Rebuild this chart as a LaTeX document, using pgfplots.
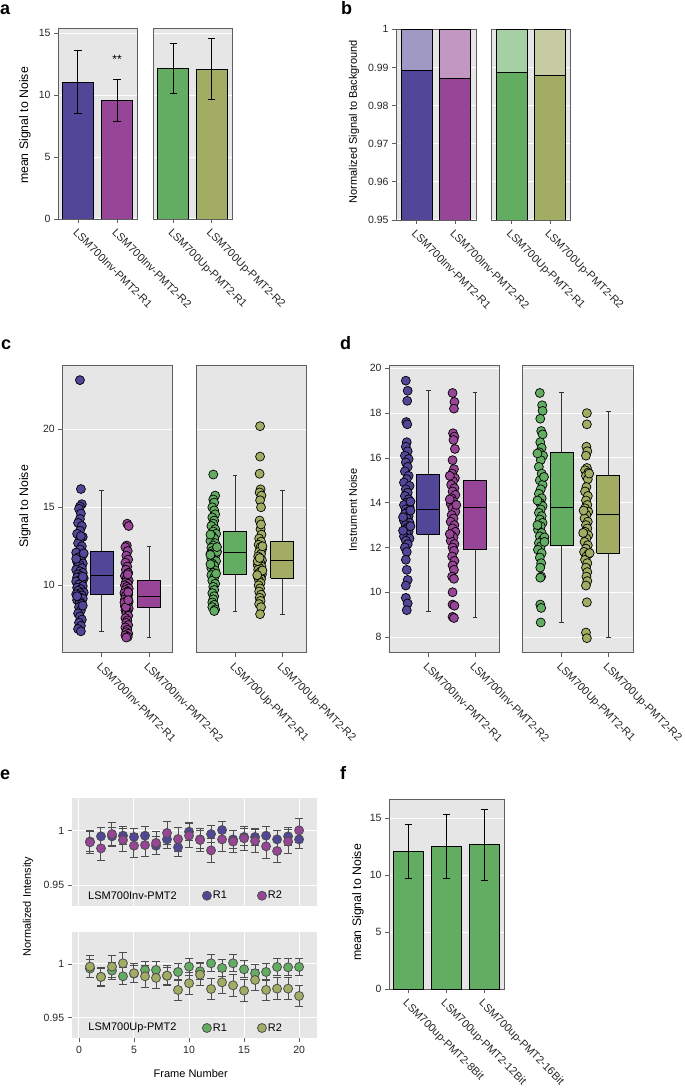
\documentclass[border=0pt]{standalone}
\usepackage{fontspec}
\setmainfont{Liberation Sans}
\usepackage{pgfplots}
\pgfplotsset{compat=1.18}
\definecolor{cA}{HTML}{524698}
\definecolor{cB}{HTML}{974596}
\definecolor{cC}{HTML}{63AD62}
\definecolor{cD}{HTML}{A2AC63}
\definecolor{lA}{HTML}{9F98C2}
\definecolor{lB}{HTML}{C297C2}
\definecolor{lC}{HTML}{A6CFA5}
\definecolor{lD}{HTML}{C7CBA3}
\definecolor{bgc}{HTML}{E6E6E6}
\definecolor{frm}{HTML}{5F5F5F}
\definecolor{mgray}{HTML}{4D4D4D}
\newcommand\tl{\fontsize{10.5}{12}\selectfont}
\newcommand\rl{\fontsize{11}{12}\selectfont}
\newcommand\yl{\fontsize{12.3}{14}\selectfont}
\newcommand\ys{\fontsize{11}{13}\selectfont}
\newcommand\pl{\fontsize{18}{18}\selectfont\bfseries}
\pgfplotsset{
 panel/.style={
  scale only axis, anchor=south west,
  axis background/.style={fill=bgc},
  axis line style={draw=frm, line width=0.9pt},
  tick style={draw=frm, line width=0.8pt},
  tick align=outside, tick pos=left,
  major tick length=4pt,
  ymajorgrids, grid style={white, line width=1pt},
  tick label style={font=\tl, text=black!85},
 },
 rotl/.style={xticklabel style={rotate=-45, anchor=north west, font=\rl}},
 noy/.style={major y tick style={draw=none}, yticklabels={}},
 bar/.style={ybar, bar shift=0pt, bar width=31pt, draw=black, line width=0.9pt},
 ebar/.style={error bars/.cd, y dir=both, y explicit, error bar style={black, line width=1pt}, error mark options={rotate=90, black, line width=1pt, mark size=3.6pt}},
 dots/.style={only marks, mark=*, mark size=4.5pt, mark options={fill=#1, draw=black, line width=0.7pt}},
 wsk/.style={draw=black!80, line width=0.8pt},
 boxs/.style={draw=black, line width=1pt},
}
\begin{document}
\begin{tikzpicture}
\useasboundingbox (0pt,0pt) rectangle (685pt,1090pt);
% ---------- panel letters and labels
\node[anchor=base west, inner sep=0, font=\pl] at (0pt,1075pt) {a};
\node[anchor=base west, inner sep=0, font=\pl] at (341pt,1075pt) {b};
\node[anchor=base west, inner sep=0, font=\pl] at (1pt,740pt) {c};
\node[anchor=base west, inner sep=0, font=\pl] at (340pt,740pt) {d};
\node[anchor=base west, inner sep=0, font=\pl] at (0pt,310pt) {e};
\node[anchor=base west, inner sep=0, font=\pl] at (340pt,310pt) {f};
\node[rotate=90, font=\yl] at (25pt,964.5pt) {mean Signal to Noise};
\node[rotate=90, font=\ys] at (354pt,968.5pt) {Normalized Signal to Background};
\node[rotate=90, font=\yl] at (25pt,583.5pt) {Signal to Noise};
\node[rotate=90, font=\ys] at (353pt,580pt) {Instrument Noise};
\node[rotate=90, font=\ys] at (28pt,183.3pt) {Normalized Intensity};
\node[font=\ys] at (190.7pt,16pt) {Frame Number};
\node[rotate=90, font=\yl] at (358pt,187.5pt) {mean Signal to Noise};

% ---------- panel a
\begin{axis}[panel, rotl, at={(58pt,871pt)}, width=79pt, height=191pt,
 xmin=-0.51, xmax=1.51, ymin=0, ymax=15.43, ytick={0,5,10,15}, yticklabels={0,5,10,15},
 xtick={0,1}, xticklabels={LSM700Inv-PMT2-R1,LSM700Inv-PMT2-R2}]
\addplot[bar, fill=cA, ebar] coordinates {(0,11.04) +- (0,2.55)};
\addplot[bar, fill=cB, ebar] coordinates {(1,9.59) +- (0,1.70)};
\node[font=\fontsize{12}{12}\selectfont] at (axis cs:1,12.9) {**};
\end{axis}
\begin{axis}[panel, rotl, noy, at={(153pt,871pt)}, width=79pt, height=191pt,
 xmin=-0.53, xmax=1.53, ymin=0, ymax=15.43, ytick={0,5,10,15},
 xtick={0,1}, xticklabels={LSM700Up-PMT2-R1,LSM700Up-PMT2-R2}]
\addplot[bar, fill=cC, ebar] coordinates {(0,12.17) +- (0,2.03)};
\addplot[bar, fill=cD, ebar] coordinates {(1,12.12) +- (0,2.46)};
\end{axis}

% ---------- panel b
\begin{axis}[panel, rotl, at={(396pt,870pt)}, width=80pt, height=190.7pt,
 xmin=-0.54, xmax=1.55, ymin=0.95, ymax=1.0, ytick={0.95,0.96,0.97,0.98,0.99,1},
 yticklabels={0.95,0.96,0.97,0.98,0.99,1},
 xtick={0,1}, xticklabels={LSM700Inv-PMT2-R1,LSM700Inv-PMT2-R2}]
\addplot[bar, fill=lA] coordinates {(0,1.0)};
\addplot[bar, fill=cA] coordinates {(0,0.9892)};
\addplot[bar, fill=lB] coordinates {(1,1.0)};
\addplot[bar, fill=cB] coordinates {(1,0.9870)};
\end{axis}
\begin{axis}[panel, rotl, noy, at={(491.7pt,870pt)}, width=78.6pt, height=190.7pt,
 xmin=-0.52, xmax=1.53, ymin=0.95, ymax=1.0, ytick={0.95,0.96,0.97,0.98,0.99,1},
 xtick={0,1}, xticklabels={LSM700Up-PMT2-R1,LSM700Up-PMT2-R2}]
\addplot[bar, fill=lC] coordinates {(0,1.0)};
\addplot[bar, fill=cC] coordinates {(0,0.9887)};
\addplot[bar, fill=lD] coordinates {(1,1.0)};
\addplot[bar, fill=cD] coordinates {(1,0.9879)};
\end{axis}

% ---------- panel c
\begin{axis}[panel, rotl, at={(62.3pt,437.3pt)}, width=110.4pt, height=287.7pt,
 xmin=-0.833, xmax=1.5, ymin=5.68, ymax=24.12, ytick={10,15,20}, yticklabels={10,15,20},
 xtick={0,1}, xticklabels={LSM700Inv-PMT2-R1,LSM700Inv-PMT2-R2}]
\addplot[dots=cA] coordinates {(-0.46,23.15)(-0.44,16.17)(-0.42,15.2)(-0.46,15.05)(-0.48,14.9)(-0.44,14.6)(-0.46,14.25)(-0.50,14.0)(-0.42,13.8)(-0.46,13.5)(-0.52,13.3)(-0.40,13.1)(-0.46,12.95)(-0.50,12.7)(-0.42,12.5)(-0.46,12.3)(-0.54,12.1)(-0.40,11.95)(-0.48,11.8)(-0.44,11.65)(-0.52,11.5)(-0.40,11.4)(-0.46,11.3)(-0.50,11.2)(-0.42,11.1)(-0.54,11.0)(-0.46,10.9)(-0.40,10.8)(-0.50,10.7)(-0.44,10.6)(-0.52,10.5)(-0.38,10.45)(-0.46,10.35)(-0.54,10.25)(-0.42,10.15)(-0.48,10.05)(-0.40,9.95)(-0.52,9.85)(-0.44,9.75)(-0.50,9.65)(-0.38,9.55)(-0.46,9.5)(-0.54,9.42)(-0.42,9.35)(-0.48,9.25)(-0.40,9.15)(-0.52,9.05)(-0.46,8.95)(-0.42,8.8)(-0.48,8.6)(-0.44,8.4)(-0.50,8.2)(-0.46,8.0)(-0.42,7.8)(-0.48,7.6)(-0.44,7.4)(-0.50,7.2)(-0.44,7.05)(-0.40,8.7)(-0.52,9.3)(-0.40,10.55)(-0.54,11.7)(-0.38,12.05)(-0.44,13.15)};
\addplot[dots=cB] coordinates {(0.54,13.95)(0.57,13.8)(0.53,12.55)(0.50,12.45)(0.55,12.2)(0.52,11.9)(0.56,11.65)(0.50,11.45)(0.54,11.2)(0.51,11.0)(0.56,10.8)(0.49,10.6)(0.53,10.45)(0.57,10.3)(0.51,10.2)(0.55,10.1)(0.49,10.0)(0.53,9.9)(0.57,9.8)(0.50,9.7)(0.54,9.6)(0.48,9.5)(0.56,9.4)(0.52,9.35)(0.50,9.3)(0.55,9.2)(0.49,9.1)(0.53,9.0)(0.57,8.95)(0.51,8.85)(0.55,8.75)(0.49,8.65)(0.53,8.55)(0.57,8.5)(0.50,8.4)(0.54,8.3)(0.52,8.2)(0.56,8.05)(0.50,7.9)(0.54,7.75)(0.52,7.6)(0.56,7.45)(0.50,7.3)(0.54,7.15)(0.52,7.0)(0.56,6.9)(0.50,6.8)(0.55,6.7)(0.52,6.65)(0.56,9.55)(0.48,8.9)(0.55,10.7)(0.51,8.6)(0.56,9.05)};
\addplot[wsk] coordinates {(0,7.03)(0,16.1)};
\addplot[wsk] coordinates {(-0.05,7.03)(0.05,7.03)};
\addplot[wsk] coordinates {(-0.05,16.1)(0.05,16.1)};
\addplot[boxs, fill=cA] coordinates {(-0.245,9.42)(0.245,9.42)(0.245,12.15)(-0.245,12.15)(-0.245,9.42)};
\addplot[boxs] coordinates {(-0.245,10.6)(0.245,10.6)};
\addplot[wsk] coordinates {(1,6.64)(1,12.52)};
\addplot[wsk] coordinates {(0.95,6.64)(1.05,6.64)};
\addplot[wsk] coordinates {(0.95,12.52)(1.05,12.52)};
\addplot[boxs, fill=cB] coordinates {(0.755,8.56)(1.245,8.56)(1.245,10.28)(0.755,10.28)(0.755,8.56)};
\addplot[boxs] coordinates {(0.755,9.31)(1.245,9.31)};
\end{axis}
\begin{axis}[panel, rotl, noy, at={(196pt,437.3pt)}, width=110.7pt, height=287.7pt,
 xmin=-0.825, xmax=1.516, ymin=5.68, ymax=24.12, ytick={10,15,20},
 xtick={0,1}, xticklabels={LSM700Up-PMT2-R1,LSM700Up-PMT2-R2}]
\addplot[dots=cC] coordinates {(-0.46,17.1)(-0.42,15.75)(-0.46,15.5)(-0.44,15.3)(-0.48,15.0)(-0.44,14.8)(-0.42,14.55)(-0.48,14.35)(-0.44,14.15)(-0.46,13.95)(-0.50,13.8)(-0.42,13.6)(-0.46,13.45)(-0.40,13.3)(-0.48,13.15)(-0.44,13.0)(-0.52,12.85)(-0.42,12.7)(-0.46,12.55)(-0.50,12.4)(-0.40,12.3)(-0.48,12.2)(-0.44,12.1)(-0.52,12.0)(-0.42,11.9)(-0.46,11.8)(-0.50,11.7)(-0.40,11.55)(-0.48,11.4)(-0.44,11.25)(-0.50,11.1)(-0.42,10.95)(-0.46,10.8)(-0.50,10.65)(-0.44,10.5)(-0.48,10.3)(-0.42,10.1)(-0.46,9.9)(-0.44,9.7)(-0.48,9.5)(-0.44,9.3)(-0.46,9.1)(-0.48,8.9)(-0.44,8.75)(-0.48,8.6)(-0.42,8.45)(-0.44,8.35)(-0.38,12.15)(-0.52,11.95)(-0.38,12.45)(-0.52,13.25)(-0.40,10.75)(-0.52,11.35)};
\addplot[dots=cD] coordinates {(0.53,20.2)(0.53,18.25)(0.52,17.15)(0.54,16.15)(0.52,15.95)(0.56,15.75)(0.53,15.45)(0.55,15.0)(0.52,14.15)(0.54,13.6)(0.56,13.25)(0.51,13.0)(0.55,12.8)(0.50,12.6)(0.54,12.45)(0.57,12.3)(0.51,12.15)(0.55,12.0)(0.49,11.85)(0.53,11.7)(0.57,11.6)(0.50,11.5)(0.54,11.4)(0.48,11.3)(0.56,11.2)(0.52,11.1)(0.49,11.0)(0.55,10.9)(0.51,10.8)(0.57,10.7)(0.53,10.6)(0.49,10.5)(0.55,10.4)(0.51,10.3)(0.54,10.15)(0.50,10.0)(0.53,9.8)(0.51,9.6)(0.55,9.4)(0.52,9.2)(0.54,9.0)(0.51,8.8)(0.55,8.6)(0.53,8.15)(0.48,11.55)(0.58,10.95)(0.52,11.75)(0.58,12.5)(0.47,10.65)(0.55,13.9)};
\addplot[wsk] coordinates {(0,8.35)(0,17.07)};
\addplot[wsk] coordinates {(-0.05,8.35)(0.05,8.35)};
\addplot[wsk] coordinates {(-0.05,17.07)(0.05,17.07)};
\addplot[boxs, fill=cC] coordinates {(-0.245,10.66)(0.245,10.66)(0.245,13.48)(-0.245,13.48)(-0.245,10.66)};
\addplot[boxs] coordinates {(-0.245,12.11)(0.245,12.11)};
\addplot[wsk] coordinates {(1,8.14)(1,16.09)};
\addplot[wsk] coordinates {(0.95,8.14)(1.05,8.14)};
\addplot[wsk] coordinates {(0.95,16.09)(1.05,16.09)};
\addplot[boxs, fill=cD] coordinates {(0.755,10.45)(1.245,10.45)(1.245,12.78)(0.755,12.78)(0.755,10.45)};
\addplot[boxs] coordinates {(0.755,11.56)(1.245,11.56)};
\end{axis}

% ---------- panel d
\begin{axis}[panel, rotl, at={(389pt,437.3pt)}, width=110.3pt, height=287.7pt,
 xmin=-0.84, xmax=1.52, ymin=7.3, ymax=20.15, ytick={8,10,12,14,16,18,20}, yticklabels={8,10,12,14,16,18,20},
 xtick={0,1}, xticklabels={LSM700Inv-PMT2-R1,LSM700Inv-PMT2-R2}]
\addplot[dots=cA] coordinates {(-0.48,19.45)(-0.44,19.0)(-0.45,18.55)(-0.47,17.6)(-0.45,17.5)(-0.46,16.7)(-0.48,16.5)(-0.44,16.3)(-0.50,16.1)(-0.42,15.95)(-0.48,15.8)(-0.44,15.6)(-0.50,15.4)(-0.42,15.2)(-0.46,15.05)(-0.52,14.9)(-0.40,14.75)(-0.48,14.6)(-0.44,14.45)(-0.50,14.3)(-0.42,14.15)(-0.46,14.0)(-0.52,13.9)(-0.40,13.8)(-0.48,13.7)(-0.44,13.6)(-0.50,13.5)(-0.42,13.4)(-0.46,13.3)(-0.52,13.2)(-0.40,13.1)(-0.48,13.0)(-0.44,12.9)(-0.50,12.8)(-0.42,12.7)(-0.46,12.6)(-0.52,12.5)(-0.40,12.4)(-0.48,12.3)(-0.44,12.15)(-0.50,12.0)(-0.46,11.8)(-0.48,11.45)(-0.46,11.0)(-0.44,10.55)(-0.48,10.3)(-0.48,9.75)(-0.44,9.5)(-0.46,9.2)(-0.38,12.95)(-0.54,13.35)(-0.38,14.05)(-0.54,12.75)(-0.38,13.65)};
\addplot[dots=cB] coordinates {(0.52,18.9)(0.56,18.5)(0.55,18.2)(0.53,17.1)(0.56,16.95)(0.54,16.8)(0.57,16.4)(0.52,15.9)(0.55,15.5)(0.51,15.3)(0.57,15.1)(0.53,14.95)(0.49,14.8)(0.56,14.65)(0.52,14.5)(0.58,14.35)(0.50,14.2)(0.54,14.05)(0.48,13.95)(0.56,13.85)(0.52,13.75)(0.58,13.6)(0.50,13.45)(0.54,13.3)(0.48,13.15)(0.56,13.0)(0.52,12.85)(0.58,12.7)(0.50,12.55)(0.54,12.45)(0.48,12.3)(0.56,12.15)(0.52,12.0)(0.55,11.85)(0.51,11.6)(0.56,11.4)(0.52,11.2)(0.55,11.0)(0.51,10.7)(0.55,10.6)(0.52,10.0)(0.52,9.45)(0.56,9.4)(0.52,8.9)(0.55,8.85)(0.46,14.15)(0.46,12.6)(0.46,15.2)(0.60,13.9)};
\addplot[wsk] coordinates {(0,9.16)(0,19.03)};
\addplot[wsk] coordinates {(-0.05,9.16)(0.05,9.16)};
\addplot[wsk] coordinates {(-0.05,19.03)(0.05,19.03)};
\addplot[boxs, fill=cA] coordinates {(-0.25,12.59)(0.25,12.59)(0.25,15.24)(-0.25,15.24)(-0.25,12.59)};
\addplot[boxs] coordinates {(-0.25,13.69)(0.25,13.69)};
\addplot[wsk] coordinates {(1,8.87)(1,18.93)};
\addplot[wsk] coordinates {(0.95,8.87)(1.05,8.87)};
\addplot[wsk] coordinates {(0.95,18.93)(1.05,18.93)};
\addplot[boxs, fill=cB] coordinates {(0.75,11.89)(1.25,11.89)(1.25,15.0)(0.75,15.0)(0.75,11.89)};
\addplot[boxs] coordinates {(0.75,13.79)(1.25,13.79)};
\end{axis}
\begin{axis}[panel, rotl, noy, at={(522.7pt,437.3pt)}, width=110.6pt, height=287.7pt,
 xmin=-0.837, xmax=1.536, ymin=7.3, ymax=20.15, ytick={8,10,12,14,16,18,20},
 xtick={0,1}, xticklabels={LSM700Up-PMT2-R1,LSM700Up-PMT2-R2}]
\addplot[dots=cC] coordinates {(-0.47,18.9)(-0.42,18.35)(-0.41,18.1)(-0.46,17.75)(-0.44,17.2)(-0.41,17.05)(-0.46,16.7)(-0.43,16.45)(-0.48,16.25)(-0.40,16.1)(-0.45,15.9)(-0.49,15.6)(-0.43,15.3)(-0.47,15.0)(-0.41,14.8)(-0.45,14.6)(-0.49,14.4)(-0.43,14.2)(-0.47,14.0)(-0.41,13.85)(-0.45,13.7)(-0.49,13.55)(-0.43,13.4)(-0.47,13.25)(-0.41,13.1)(-0.45,12.95)(-0.51,12.8)(-0.43,12.65)(-0.47,12.5)(-0.41,12.35)(-0.49,12.2)(-0.45,12.05)(-0.51,11.9)(-0.43,11.75)(-0.47,11.55)(-0.44,11.3)(-0.46,11.1)(-0.44,10.7)(-0.46,10.65)(-0.46,9.45)(-0.44,9.3)(-0.45,8.65)(-0.52,16.2)(-0.37,12.45)(-0.52,14.1)(-0.38,15.15)(-0.37,12.25)(-0.52,13.0)};
\addplot[dots=cD] coordinates {(0.54,18.0)(0.54,17.5)(0.53,16.5)(0.55,16.3)(0.52,16.1)(0.54,15.55)(0.50,15.45)(0.57,15.35)(0.52,15.2)(0.56,15.05)(0.53,14.7)(0.50,14.5)(0.56,14.3)(0.52,14.1)(0.55,13.9)(0.50,13.75)(0.57,13.6)(0.53,13.45)(0.49,13.3)(0.56,13.15)(0.52,13.0)(0.55,12.85)(0.50,12.7)(0.57,12.55)(0.53,12.4)(0.49,12.25)(0.56,12.1)(0.52,11.95)(0.48,11.8)(0.57,11.7)(0.53,11.6)(0.50,11.45)(0.55,11.3)(0.52,11.1)(0.55,10.9)(0.53,10.7)(0.55,10.5)(0.52,10.3)(0.54,9.55)(0.52,8.2)(0.54,7.95)(0.59,15.3)(0.47,13.65)(0.60,11.75)(0.46,12.65)};
\addplot[wsk] coordinates {(0,8.64)(0,18.94)};
\addplot[wsk] coordinates {(-0.05,8.64)(0.05,8.64)};
\addplot[wsk] coordinates {(-0.05,18.94)(0.05,18.94)};
\addplot[boxs, fill=cC] coordinates {(-0.25,12.07)(0.25,12.07)(0.25,16.26)(-0.25,16.26)(-0.25,12.07)};
\addplot[boxs] coordinates {(-0.25,13.78)(0.25,13.78)};
\addplot[wsk] coordinates {(1,7.97)(1,18.06)};
\addplot[wsk] coordinates {(0.95,7.97)(1.05,7.97)};
\addplot[wsk] coordinates {(0.95,18.06)(1.05,18.06)};
\addplot[boxs, fill=cD] coordinates {(0.75,11.74)(1.25,11.74)(1.25,15.21)(0.75,15.21)(0.75,11.74)};
\addplot[boxs] coordinates {(0.75,13.48)(1.25,13.48)};
\end{axis}

% ---------- panel e
\pgfplotsset{
 epanel/.style={
  scale only axis, anchor=south west, width=245pt,
  axis background/.style={fill=bgc},
  axis line style={draw=none},
  tick style={draw=frm, line width=0.8pt},
  tick align=outside, tick pos=left, major tick length=4pt,
  xmajorgrids, ymajorgrids, grid style={white, line width=1pt},
  tick label style={font=\tl, text=black!85},
  xmin=-0.66, xmax=21.6, ymin=0.9307, ymax=1.0298,
  xtick={0,5,10,15,20}, ytick={0.95,1}, yticklabels={0.95,1},
  legend columns=-1,
  legend style={anchor=west, draw=none, fill=none, font=\ys, inner sep=0pt,
   /tikz/every even column/.append style={column sep=29pt},
   nodes={inner xsep=1.5pt, inner ysep=0pt}},
  legend image code/.code={\draw[##1] plot coordinates {(0pt,0pt)};},
 },
 edots/.style={forget plot, only marks, color=mgray, mark=*, mark size=4.5pt,
  mark options={fill=#1, draw=mgray, line width=0.8pt},
  error bars/.cd, y dir=both, y explicit, error bar style={mgray, line width=1pt},
  error mark options={rotate=90, mgray, line width=1pt, mark size=4pt}},
}
\begin{axis}[epanel, at={(71.7pt,184pt)}, height=107.7pt, xticklabels={}, major x tick style={draw=none},
 legend style={at={(0.5327,0.0956)}}]
\addplot[edots=cA] table[x=f, y=v, y error=e] {
f v e
1 0.9900 0.009
2 0.9948 0.008
3 0.9948 0.008
4 0.9954 0.008
5 0.9942 0.008
6 0.9954 0.008
7 0.9862 0.008
8 0.9920 0.008
9 0.9847 0.008
10 0.9991 0.008
11 0.9920 0.008
12 0.9969 0.008
13 1.0006 0.008
14 0.9920 0.008
15 0.9942 0.008
16 0.9942 0.008
17 0.9954 0.008
18 0.9920 0.008
19 0.9948 0.008
20 0.9920 0.008
};
\addplot[edots=cB] table[x=f, y=v, y error=e] {
f v e
1 0.9893 0.0105
2 0.9837 0.011
3 0.9969 0.011
4 0.9914 0.011
5 0.9862 0.011
6 0.9868 0.011
7 0.9887 0.0105
8 0.9979 0.011
9 0.9923 0.011
10 0.9954 0.011
11 0.9914 0.011
12 0.9819 0.011
13 0.9920 0.011
14 0.9900 0.0105
15 0.9930 0.011
16 0.9905 0.011
17 0.9856 0.011
18 0.9813 0.011
19 0.9900 0.011
20 1.0003 0.011
};
\node[anchor=west, font=\ys, inner sep=0pt] at (axis cs:0.82,0.9401) {LSM700Inv-PMT2};
\addlegendimage{only marks, mark=*, mark size=4.5pt, mark options={fill=cA, draw=mgray, line width=0.8pt}}
\addlegendentry{R1}
\addlegendimage{only marks, mark=*, mark size=4.5pt, mark options={fill=cB, draw=mgray, line width=0.8pt}}
\addlegendentry{R2}
\end{axis}
\begin{axis}[epanel, at={(71.7pt,51.7pt)}, height=106.6pt, xticklabels={0,5,10,15,20},
 ymin=0.9308, ymax=1.030, legend style={at={(0.5327,0.0966)}}]
\addplot[edots=cC] table[x=f, y=v, y error=e] {
f v e
1 0.9957 0.008
2 0.9880 0.008
3 0.9938 0.008
4 0.9885 0.008
5 0.9910 0.008
6 0.9944 0.008
7 0.9944 0.008
8 0.9890 0.008
9 0.9925 0.008
10 0.9975 0.008
11 0.9932 0.008
12 1.0006 0.008
13 0.9963 0.008
14 1.0006 0.008
15 0.9950 0.008
16 0.9913 0.008
17 0.9925 0.008
18 0.9972 0.008
19 0.9969 0.008
20 0.9972 0.008
};
\addplot[edots=cD] table[x=f, y=v, y error=e] {
f v e
1 0.9975 0.010
2 0.9879 0.009
3 0.9975 0.010
4 1.0006 0.010
5 0.9913 0.009
6 0.9885 0.010
7 0.9870 0.010
8 0.9891 0.009
9 0.9758 0.010
10 0.9820 0.010
11 0.9900 0.010
12 0.9767 0.010
13 0.9829 0.010
14 0.9801 0.010
15 0.9752 0.010
16 0.9851 0.010
17 0.9758 0.010
18 0.9770 0.010
19 0.9770 0.010
20 0.9702 0.010
};
\node[anchor=west, font=\ys, inner sep=0pt] at (axis cs:0.84,0.9404) {LSM700Up-PMT2};
\addlegendimage{only marks, mark=*, mark size=4.5pt, mark options={fill=cC, draw=mgray, line width=0.8pt}}
\addlegendentry{R1}
\addlegendimage{only marks, mark=*, mark size=4.5pt, mark options={fill=cD, draw=mgray, line width=0.8pt}}
\addlegendentry{R2}
\end{axis}

% ---------- panel f
\begin{axis}[panel, rotl, at={(389pt,100.7pt)}, width=115pt, height=190.3pt,
 xmin=-0.51, xmax=2.52, ymin=0, ymax=16.69, ytick={0,5,10,15}, yticklabels={0,5,10,15},
 xtick={0,1,2}, xticklabels={LSM700up-PMT2-8Bit,LSM700up-PMT2-12Bit,LSM700up-PMT2-16Bit}]
\addplot[bar, bar width=30.5pt, fill=cC, ebar] coordinates {(0,12.07) +- (0,2.37)};
\addplot[bar, bar width=30.5pt, fill=cC, ebar] coordinates {(1,12.54) +- (0,2.78)};
\addplot[bar, bar width=30.5pt, fill=cC, ebar] coordinates {(2,12.68) +- (0,3.10)};
\end{axis}
\end{tikzpicture}
\end{document}
